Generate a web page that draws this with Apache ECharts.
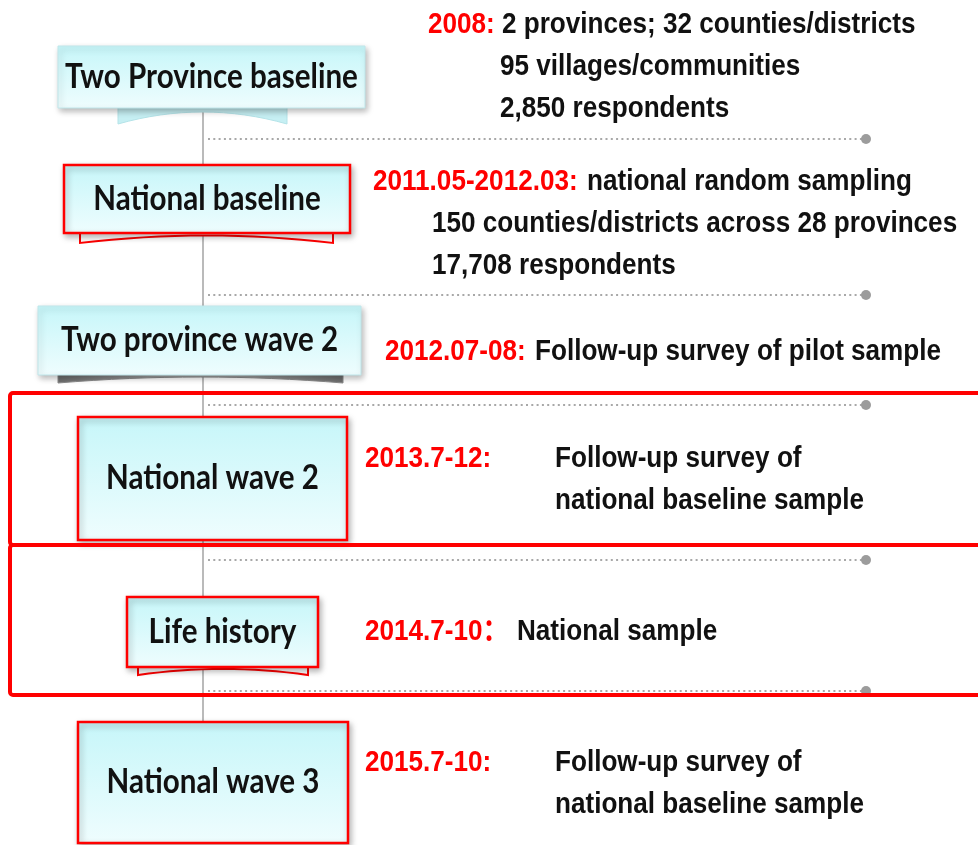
<!DOCTYPE html>
<html lang="en">
  <head>
    <meta charset="UTF-8" />
    <title>Survey waves</title>
    <script src="https://cdn.jsdelivr.net/npm/echarts@6/dist/echarts.min.js"></script>
    <style>
      html, body { margin: 0; padding: 0; background: #fff; }
      #main { width: 978px; height: 845px; }
    </style>
  </head>
  <body>
    <div id="main"></div>
    <script type="text/javascript">
      // ---- content ----
      var stageNames = [
        "Two Province baseline",
        "National baseline",
        "Two province wave 2",
        "National wave 2",
        "Life history",
        "National wave 3"
      ];
      var periods = [
        "2008:",
        "2011.05-2012.03:",
        "2012.07-08:",
        "2013.7-12:",
        "2014.7-10：",
        "2015.7-10:"
      ];
      var notes = [
        ["2 provinces; 32 counties/districts", "95 villages/communities", "2,850 respondents"],
        ["national random sampling", "150 counties/districts across 28 provinces", "17,708 respondents"],
        ["Follow-up survey of pilot sample"],
        ["Follow-up survey of", "national baseline sample"],
        ["National sample"],
        ["Follow-up survey of", "national baseline sample"]
      ];

      // ---- layout (page pixels, mapped through hidden axes) ----
      var boxes = [
        { x0: 58, y0: 46, x1: 365, y1: 108, tab: [118, 287, 124], look: "plain" },
        { x0: 64, y0: 165, x1: 350, y1: 233, tab: [80, 333, 243], look: "red" },
        { x0: 38, y0: 306, x1: 361, y1: 375, tab: [58, 343, 383], look: "grey" },
        { x0: 78, y0: 417, x1: 347, y1: 540, look: "red" },
        { x0: 127, y0: 597, x1: 318, y1: 667, tab: [138, 308, 675], look: "red" },
        { x0: 78, y0: 722, x1: 348, y1: 843, look: "red" }
      ];
      var textAt = [
        { px: 428, nx: 502, lx: 500, y: 25 },
        { px: 373, nx: 587, lx: 432, y: 182 },
        { px: 385, nx: 535, y: 352 },
        { px: 365, nx: 555, lx: 555, y: 459 },
        { px: 365, nx: 517, y: 632 },
        { px: 365, nx: 555, lx: 555, y: 763 }
      ];
      var separatorY = [139, 295, 405, 560, 691];
      var frames = [[393, 545], [545, 695]];
      var LINE_GAP = 42;

      var RED = "#ff0000";
      var noteFont = {
        fontFamily: "'Liberation Sans', Arial, 'Noto Sans CJK SC', sans-serif",
        fontWeight: "bold",
        fontSize: 30
      };
      var NOTE_SCALE = 0.87;
      var LABEL_SCALE = 0.87;

      var chartDom = document.getElementById("main");
      var myChart = echarts.init(chartDom);

      function boxFill() {
        return new echarts.graphic.LinearGradient(0, 0, 0, 1, [
          { offset: 0, color: "#c6f6f9" },
          { offset: 1, color: "#effdfe" }
        ]);
      }

      function tabPoints(api, b) {
        var left = api.coord([b.tab[0], b.y1 - 6]);
        var right = api.coord([b.tab[1], b.tab[2]]);
        var top = left[1], bottom = right[1];
        var sag = (bottom - api.coord([0, b.y1])[1]) * 0.75;
        var pts = [[left[0], top], [left[0], bottom]];
        for (var k = 1; k < 16; k++) {
          var t = k / 16;
          var x = left[0] + (right[0] - left[0]) * t;
          var y = bottom - 2 * sag * t * (1 - t) * 2;
          pts.push([x, y]);
        }
        pts.push([right[0], bottom], [right[0], top]);
        return pts;
      }

      var tabStyles = {
        plain: { fill: "#c6eff3", stroke: "#b5e3e8", lineWidth: 1 },
        red: { fill: "#ffffff", stroke: RED, lineWidth: 2 },
        grey: {
          fill: new echarts.graphic.LinearGradient(0, 0, 1, 0, [
            { offset: 0, color: "#6f6f6f" },
            { offset: 0.5, color: "#b5b5b5" },
            { offset: 1, color: "#6f6f6f" }
          ]),
          stroke: "#8a8a8a",
          lineWidth: 1
        }
      };

      function renderTimeline(params, api) {
        var a = api.coord([203, 108]);
        var b = api.coord([203, 722]);
        return {
          type: "line",
          shape: { x1: a[0], y1: a[1], x2: b[0], y2: b[1] },
          style: { stroke: "#8c8c8c", lineWidth: 1.2 }
        };
      }

      function renderSeparator(params, api) {
        var y = api.value(1);
        var a = api.coord([208, y]);
        var b = api.coord([866, y]);
        return {
          type: "group",
          children: [
            {
              type: "line",
              shape: { x1: a[0], y1: a[1], x2: b[0], y2: b[1] },
              style: { stroke: "#a8a8a8", lineWidth: 2, lineDash: [2, 3.3] }
            },
            {
              type: "circle",
              shape: { cx: b[0], cy: b[1], r: 5 },
              style: { fill: "#9c9c9c" }
            }
          ]
        };
      }

      function renderStage(params, api) {
        var i = params.dataIndex;
        var b = boxes[i];
        var p0 = api.coord([b.x0, b.y0]);
        var p1 = api.coord([b.x1, b.y1]);
        var children = [];
        if (b.tab) {
          children.push({
            type: "polygon",
            shape: { points: tabPoints(api, b) },
            style: tabStyles[b.look]
          });
        }
        children.push({
          type: "rect",
          shape: { x: p0[0], y: p0[1], width: p1[0] - p0[0], height: p1[1] - p0[1] },
          style: {
            fill: boxFill(),
            stroke: b.look === "red" ? RED : "#bfe6ea",
            lineWidth: b.look === "red" ? 2.5 : 1,
            shadowBlur: 6,
            shadowColor: "rgba(0,0,0,0.28)",
            shadowOffsetX: 2,
            shadowOffsetY: 3
          }
        });
        children.push({
          type: "text",
          x: (p0[0] + p1[0]) / 2,
          y: (p0[1] + p1[1]) / 2,
          scaleX: LABEL_SCALE,
          style: {
            text: stageNames[i],
            fill: "#111111",
            fontFamily: "Lato, 'Open Sans', sans-serif",
            fontWeight: "bold",
            fontSize: 34,
            align: "center",
            verticalAlign: "middle"
          }
        });
        return { type: "group", children: children };
      }

      function noteText(x, y, text, color) {
        return {
          type: "text",
          x: x,
          y: y,
          scaleX: NOTE_SCALE,
          style: {
            text: text,
            fill: color,
            fontFamily: noteFont.fontFamily,
            fontWeight: noteFont.fontWeight,
            fontSize: noteFont.fontSize,
            align: "left",
            verticalAlign: "middle"
          }
        };
      }

      function renderNotes(params, api) {
        var i = params.dataIndex;
        var t = textAt[i];
        var children = [];
        var pp = api.coord([t.px, t.y]);
        children.push(noteText(pp[0], pp[1], periods[i], RED));
        notes[i].forEach(function (line, k) {
          var p = api.coord([k === 0 ? t.nx : t.lx, t.y + k * LINE_GAP]);
          children.push(noteText(p[0], p[1], line, "#111111"));
        });
        return { type: "group", children: children };
      }

      function renderFrame(params, api) {
        var a = api.coord([10, api.value(0)]);
        var b = api.coord([1000, api.value(1)]);
        return {
          type: "rect",
          shape: { x: a[0], y: a[1], width: b[0] - a[0], height: b[1] - a[1], r: 3 },
          style: { fill: "none", stroke: RED, lineWidth: 4 }
        };
      }

      var option = {
        animation: false,
        grid: { left: 0, right: 0, top: 0, bottom: 0 },
        xAxis: { type: "value", min: 0, max: 978, show: false },
        yAxis: { type: "value", min: 0, max: 845, inverse: true, show: false },
        series: [
          { type: "custom", name: "timeline", clip: false, renderItem: renderTimeline, data: [[203, 108]], z: 1 },
          {
            type: "custom",
            name: "separators",
            clip: false,
            renderItem: renderSeparator,
            data: separatorY.map(function (y) { return [208, y]; }),
            z: 2
          },
          {
            type: "custom",
            name: "stages",
            clip: false,
            renderItem: renderStage,
            data: stageNames.map(function (n, i) { return [i, i]; }),
            z: 3
          },
          {
            type: "custom",
            name: "notes",
            clip: false,
            renderItem: renderNotes,
            data: periods.map(function (p, i) { return [i, i]; }),
            z: 4
          },
          {
            type: "custom",
            name: "frames",
            clip: false,
            renderItem: renderFrame,
            data: frames,
            z: 5
          }
        ]
      };

      myChart.setOption(option);
    </script>
  </body>
</html>
